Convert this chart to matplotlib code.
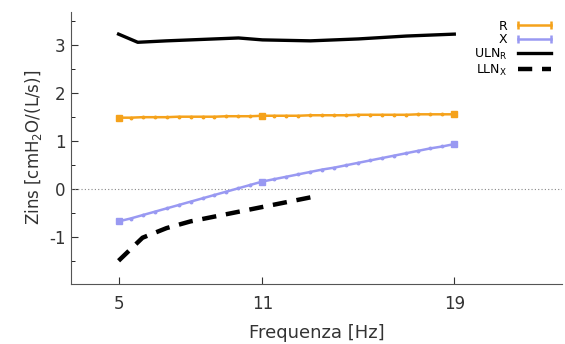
import numpy as np
import matplotlib
matplotlib.use("Agg")
import matplotlib.pyplot as plt

plt.rcParams["axes.unicode_minus"] = False

# data
freq_r = [5, 5.5, 6, 6.5, 7, 7.5, 8, 8.5, 9, 9.5, 10, 10.5, 11, 11.5, 12, 12.5, 13, 13.5, 14, 14.5, 15, 15.5, 16, 16.5, 17, 17.5, 18, 18.5, 19]
r_vals = [1.48, 1.48, 1.49, 1.49, 1.49, 1.50, 1.50, 1.50, 1.50, 1.51, 1.51, 1.51, 1.52, 1.52, 1.52, 1.52, 1.53, 1.53, 1.53, 1.53, 1.54, 1.54, 1.54, 1.54, 1.54, 1.55, 1.55, 1.55, 1.55]
x_vals = [-0.68, -0.62, -0.55, -0.48, -0.41, -0.34, -0.27, -0.20, -0.13, -0.06, 0.01, 0.08, 0.15,
          0.20, 0.25, 0.30, 0.35, 0.40, 0.44, 0.49, 0.54, 0.59, 0.64, 0.69, 0.74, 0.79, 0.84, 0.88, 0.93]
big_freq = [5, 11, 19]

uln_freq = [5, 5.8, 7, 8, 9, 10, 11, 12, 13, 14, 15, 16, 17, 18, 19]
uln_r = [3.22, 3.05, 3.08, 3.10, 3.12, 3.14, 3.10, 3.09, 3.08, 3.10, 3.12, 3.15, 3.18, 3.20, 3.22]

lln_freq = [5, 6, 7, 8, 9, 10, 11, 12, 13]
lln_x = [-1.50, -1.02, -0.82, -0.68, -0.58, -0.48, -0.38, -0.28, -0.18]

orange = "#f5a21b"
lilac = "#9999f2"

fig, ax = plt.subplots(figsize=(5.65, 3.44), dpi=100)
fig.subplots_adjust(left=0.125, right=0.995, top=0.965, bottom=0.175)

ax.axhline(0, color="#888888", lw=0.8, ls=(0, (1, 2)))

ax.plot(uln_freq, uln_r, color="black", lw=2.4, label="ULN$_\\mathregular{R}$")
ax.plot(lln_freq, lln_x, color="black", lw=3.2, ls=(0, (3.2, 2.2)), label="LLN$_\\mathregular{X}$")

ax.plot(freq_r, r_vals, color=orange, lw=1.8, marker="o", ms=1.8)
ax.plot(freq_r, x_vals, color=lilac, lw=1.8, marker="o", ms=1.8)
big_r = [r_vals[freq_r.index(f)] for f in big_freq]
big_x = [x_vals[freq_r.index(f)] for f in big_freq]
ax.plot(big_freq, big_r, ls="none", marker="s", ms=5, color=orange)
ax.plot(big_freq, big_x, ls="none", marker="s", ms=5, color=lilac)

# legend handles with end caps like gnuplot error bars
hR, = ax.plot([], [], color=orange, lw=1.8, marker="|", ms=6, mew=1.8, label="R")
hX, = ax.plot([], [], color=lilac, lw=1.8, marker="|", ms=6, mew=1.8, label="X")
handles = [hR, hX] + ax.get_lines()[1:3]
leg = ax.legend(handles=handles, labels=["R", "X", "ULN$_\\mathregular{R}$", "LLN$_\\mathregular{X}$"],
                loc="upper right", bbox_to_anchor=(1.0, 1.0), markerfirst=False, frameon=False,
                fontsize=9, handlelength=3.2, labelspacing=0.05, borderaxespad=0.2,
                handletextpad=0.6, numpoints=2)
for t in leg.get_texts():
    t.set_ha("right")

ax.set_xlim(3, 23.5)
ax.set_ylim(-1.98, 3.68)
ax.set_xticks([5, 11, 19])
ax.set_yticks([-1, 0, 1, 2, 3])
ax.set_yticks(np.arange(-1.5, 3.6, 0.5), minor=True)
ax.tick_params(axis="both", labelsize=12, colors="#333333", direction="in", length=5)
ax.tick_params(axis="y", which="minor", direction="in", length=3)
ax.tick_params(axis="x", pad=8)
ax.spines["top"].set_visible(False)
ax.spines["right"].set_visible(False)
for s in ("left", "bottom"):
    ax.spines[s].set_color("#555555")

ax.set_xlabel("Frequenza [Hz]", fontsize=13, color="#333333", labelpad=8)
ax.set_ylabel("Zins [cmH$_\\mathregular{2}$O/(L/s)]", fontsize=12, color="#333333")

fig.savefig("out.png")
